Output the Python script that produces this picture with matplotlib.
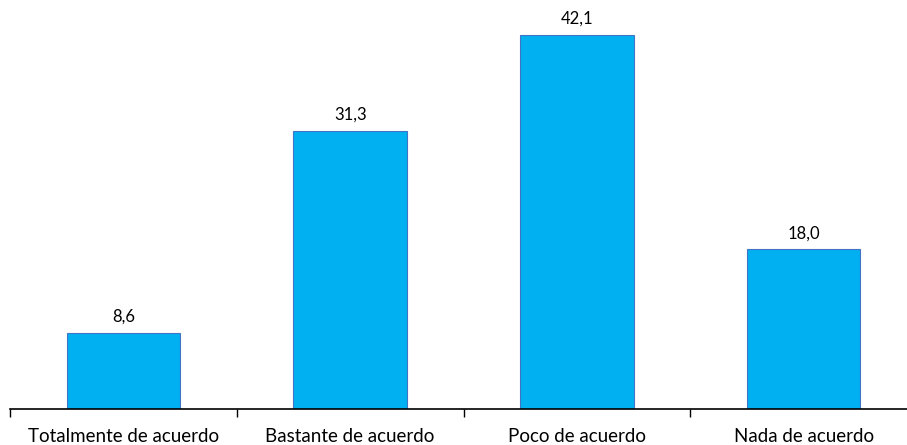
import matplotlib
matplotlib.use("Agg")
import matplotlib.pyplot as plt
import numpy as np

categories = ["Totalmente de acuerdo", "Bastante de acuerdo", "Poco de acuerdo", "Nada de acuerdo"]
values = [8.6, 31.3, 42.1, 18.0]
value_labels = ["8,6", "31,3", "42,1", "18,0"]

plt.rcParams["font.family"] = ["Lato", "DejaVu Sans"]

fig = plt.figure(figsize=(9.07, 4.45), dpi=100)
ax = fig.add_axes([10 / 907, 36 / 445, 907 / 907, 409 / 445])

x = np.arange(len(categories))
bars = ax.bar(x, values, width=0.5, color="#00B0F0", edgecolor="#4472C4", linewidth=0.8)

for b, lab in zip(bars, value_labels):
    ax.text(b.get_x() + b.get_width() / 2, b.get_height() + 0.9, lab,
            ha="center", va="bottom", fontsize=12)

ax.set_xlim(-0.5, len(categories) - 0.5)
ax.set_ylim(0, 46.05)
ax.set_xticks(x)
ax.set_xticklabels(categories, fontsize=13.5)
ax.set_xticks(np.arange(-0.5, len(categories)), minor=True)
ax.tick_params(axis="x", which="major", length=0, pad=14)
ax.tick_params(axis="x", which="minor", length=6, width=1, direction="out")
ax.set_yticks([])
for s in ["top", "right", "left"]:
    ax.spines[s].set_visible(False)
ax.spines["bottom"].set_linewidth(1.2)

fig.savefig("out.png", dpi=100)
